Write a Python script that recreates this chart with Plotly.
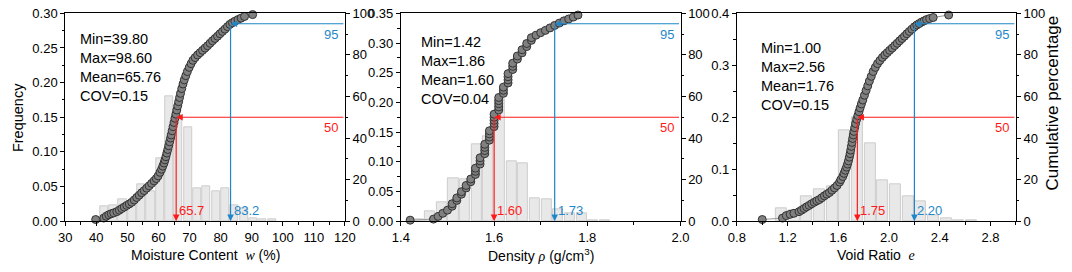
import plotly.graph_objects as go

FONT = "Liberation Sans"
RED = "#ff1a1a"
BLUE = "#1f87c9"

# ---------------- Panel 1: moisture content ----------------
w_bins = [42.5, 45.5, 48.5, 51.5, 54.5, 57.5, 60.5, 63.5, 66.5, 69.5, 72.5,
          75.5, 78.5, 81.5, 84.5, 87.5, 90.5, 93.5, 96.5]
w_freq = [0.021, 0.023, 0.032, 0.028, 0.053, 0.043, 0.091, 0.180, 0.152, 0.136,
          0.047, 0.050, 0.043, 0.048, 0.023, 0.018, 0.004, 0.003, 0.002]
w_cx = [39.8, 42.4, 43.2, 44.0, 44.8, 45.6, 46.6, 47.4, 48.2, 49.0, 49.8, 50.6,
        51.4, 52.2, 53.0, 53.8, 54.6, 55.4, 56.2, 57.0, 57.8, 58.6, 59.3, 59.9,
        60.5, 61.0, 61.4, 61.8, 62.1, 62.4, 62.7, 63.0, 63.3, 63.6, 63.9, 64.1,
        64.4, 64.7, 65.0, 65.3, 65.6, 65.9, 66.2, 66.5, 66.8, 67.1, 67.5, 67.9,
        68.3, 68.8, 69.3, 69.9, 70.5, 71.1, 71.8, 72.6, 73.4, 74.2, 75.0, 75.8,
        76.6, 77.4, 78.2, 79.0, 79.8, 80.6, 81.4, 82.2, 83.0, 83.8, 84.6, 85.6,
        86.6, 87.7, 90.3]
w_cp = [0.8, 1.5, 2.4, 3.1, 3.6, 4.0, 4.6, 5.3, 6.1, 6.8, 7.6, 8.3,
        9.1, 10.2, 11.4, 12.5, 13.7, 14.7, 15.9, 17.0, 18.2, 19.4, 20.5, 21.8,
        23.5, 25.0, 26.5, 28.0, 29.5, 31.0, 32.8, 34.5, 36.3, 38.2, 40.0, 41.5,
        43.5, 45.5, 47.5, 49.5, 51.5, 53.5, 55.5, 57.5, 59.5, 61.5, 63.8, 66.0,
        68.0, 70.0, 72.0, 74.0, 75.8, 77.4, 78.7, 80.0, 81.1, 82.2, 83.3, 84.4,
        85.6, 86.8, 87.9, 89.0, 90.2, 91.3, 92.4, 93.6, 94.7, 95.5, 96.2, 97.0,
        97.7, 98.5, 99.4]
w_p50, w_p95 = 65.7, 83.2
w_stats = ["Min=39.80", "Max=98.60", "Mean=65.76", "COV=0.15"]

# ---------------- Panel 2: density ----------------
d_bins = [1.4375, 1.4625, 1.4875, 1.5125, 1.5375, 1.5625, 1.5875, 1.6125,
          1.6375, 1.6625, 1.6875, 1.7125, 1.7375, 1.7625, 1.7875, 1.8125, 1.8375]
d_freq = [0.003, 0.017, 0.032, 0.073, 0.071, 0.130, 0.143, 0.205, 0.100, 0.098,
          0.039, 0.037, 0.020, 0.014, 0.014, 0.001, 0.001]
d_cx = [1.42, 1.47, 1.48, 1.49, 1.50, 1.51, 1.51, 1.52, 1.52, 1.53, 1.53, 1.54,
        1.54, 1.55, 1.55, 1.56, 1.56, 1.56, 1.57, 1.57, 1.57, 1.58, 1.58, 1.58,
        1.58, 1.59, 1.59, 1.59, 1.59, 1.60, 1.60, 1.60, 1.60, 1.60, 1.61, 1.61,
        1.61, 1.61, 1.61, 1.62, 1.62, 1.62, 1.63, 1.63, 1.63, 1.63, 1.64, 1.64,
        1.64, 1.65, 1.65, 1.66, 1.66, 1.67, 1.67, 1.68, 1.68, 1.69, 1.70, 1.71,
        1.72, 1.73, 1.74, 1.75, 1.76, 1.77, 1.78]
d_cp = [0.5, 1.0, 2.3, 3.8, 5.3, 7.2, 8.4, 10.0, 11.2, 13.0, 14.2, 16.0,
        17.2, 19.0, 20.3, 22.5, 24.0, 25.5, 27.5, 29.0, 30.5, 32.5, 34.0, 35.5,
        37.0, 39.0, 40.5, 42.0, 43.5, 45.5, 47.0, 48.5, 50.0, 51.5, 53.5, 55.0,
        56.5, 58.0, 59.5, 61.5, 63.0, 64.5, 66.5, 68.0, 69.5, 71.0, 73.0, 74.5,
        76.0, 78.0, 79.5, 81.0, 82.5, 84.0, 85.5, 87.0, 88.3, 89.5, 90.7, 91.8,
        93.0, 94.2, 95.3, 96.4, 97.3, 98.2, 99.2]
d_p50, d_p95 = 1.60, 1.73
d_stats = ["Min=1.42", "Max=1.86", "Mean=1.60", "COV=0.04"]

# ---------------- Panel 3: void ratio ----------------
e_bins = [1.15, 1.25, 1.35, 1.45, 1.55, 1.65, 1.75, 1.85, 1.95, 2.05, 2.15,
          2.25, 2.35, 2.45, 2.55, 2.65]
e_freq = [0.024, 0.021, 0.047, 0.061, 0.068, 0.1745, 0.200, 0.149, 0.078,
          0.071, 0.0485, 0.0376, 0.0105, 0.006, 0.002, 0.001]
e_cx = [1.00, 1.16, 1.19, 1.22, 1.25, 1.29, 1.31, 1.33, 1.35, 1.37, 1.39, 1.41,
        1.43, 1.45, 1.47, 1.49, 1.51, 1.53, 1.55, 1.57, 1.59, 1.61, 1.62, 1.635,
        1.645, 1.655, 1.665, 1.673, 1.68, 1.687, 1.693, 1.698, 1.703, 1.708,
        1.713, 1.718, 1.723, 1.729, 1.736, 1.745, 1.754, 1.763, 1.772, 1.782,
        1.793, 1.806, 1.819, 1.832, 1.845, 1.860, 1.875, 1.892, 1.909, 1.928,
        1.948, 1.967, 1.986, 2.005, 2.025, 2.045, 2.064, 2.084, 2.103, 2.122,
        2.141, 2.160, 2.180, 2.200, 2.219, 2.238, 2.257, 2.277, 2.296, 2.320,
        2.348, 2.470]
e_cp = [0.8, 1.5, 2.7, 3.3, 3.8, 4.6, 5.3, 6.1, 6.9, 7.6, 8.4, 9.1,
        9.8, 10.4, 11.3, 12.2, 13.0, 13.8, 14.9, 16.0, 17.2, 18.8, 20.0, 21.5,
        23.0, 24.5, 26.0, 27.5, 29.0, 30.8, 32.5, 34.2, 36.0, 37.9,
        39.8, 41.5, 43.2, 45.0, 47.0, 49.0, 50.8, 52.7, 54.5, 56.4,
        58.3, 60.6, 62.9, 65.1, 67.4, 69.7, 72.0, 74.0, 75.8, 77.3,
        78.8, 80.0, 81.1, 82.2, 83.3, 84.5, 85.6, 86.8, 87.9, 89.0,
        90.2, 91.3, 92.4, 93.5, 94.4, 95.1, 95.8, 96.4, 97.0, 97.5,
        98.0, 99.2]
e_p50, e_p95 = 1.75, 2.20
e_stats = ["Min=1.00", "Max=2.56", "Mean=1.76", "COV=0.15"]

x_titles = [
    "Moisture Content  <span style=\"font-family:'Liberation Serif';font-style:italic\">w</span> (%)",
    "Density <span style=\"font-family:'Liberation Serif';font-style:italic\">ρ</span> (g/cm<sup>3</sup>)",
    "Void Ratio  <span style=\"font-family:'Liberation Serif';font-style:italic\">e</span>",
]

W, H = 1072, 272
px_l = [57.3, 399.3, 741.7]
px_r = [342.3, 684.3, 1026.0]
y_dom = [1 - 226.7 / H, 1 - 6.7 / H]

panels = [
    dict(bins=w_bins, freq=w_freq, bw=3.0, cx=w_cx, cp=w_cp, p50=w_p50, p95=w_p95,
         lbl50="65.7", lbl95="83.2", stats=w_stats, xr=[30, 120], xd=10, x0=30, xm=5, xf="d",
         yr=[0, 0.30], yd=0.05, ym=0.025, yf=".2f", sx=12.7, sy=17.0),
    dict(bins=d_bins, freq=d_freq, bw=0.025, cx=d_cx, cp=d_cp, p50=d_p50, p95=d_p95,
         lbl50="1.60", lbl95="1.73", stats=d_stats, xr=[1.4, 2.0], xd=0.2, x0=1.4, xm=0.1, xf=".1f",
         yr=[0, 0.35], yd=0.05, ym=0.025, yf=".2f", sx=19.0, sy=19.5),
    dict(bins=e_bins, freq=e_freq, bw=0.1, cx=e_cx, cp=e_cp, p50=e_p50, p95=e_p95,
         lbl50="1.75", lbl95="2.20", stats=e_stats, xr=[0.8, 3.0], xd=0.4, x0=0.8, xm=0.2, xf=".1f",
         yr=[0, 0.4], yd=0.1, ym=0.05, yf=".1f", sx=22.6, sy=26.5),
]

fig = go.Figure()
annotations = []
tickfont = dict(family=FONT, size=13, color="black")
layout = {}

for k, p in enumerate(panels):
    xs = "" if k == 0 else str(k + 1)
    yl = "" if k == 0 else str(2 * k + 1)
    yr_ = str(2 * k + 2)
    xref, ylref, yrref = "x" + xs, "y" + yl, "y" + yr_

    fig.add_trace(go.Bar(x=p["bins"], y=p["freq"], width=p["bw"] * 0.87,
                         marker=dict(color="#e8e8e8", line=dict(color="#cdcdcd", width=1)),
                         xaxis=xref, yaxis=ylref, showlegend=False, hoverinfo="skip"))
    fig.add_trace(go.Scatter(x=p["cx"], y=p["cp"], mode="lines+markers",
                             line=dict(color="#9a9a9a", width=1),
                             marker=dict(size=8, color="#808080", line=dict(color="#333333", width=1)),
                             xaxis=xref, yaxis=yrref, showlegend=False, cliponaxis=False,
                             hoverinfo="skip"))

    dom = [px_l[k] / W, px_r[k] / W]
    common = dict(ticks="outside", ticklen=4, tickwidth=1, tickcolor="black",
                  showline=True, linecolor="black", linewidth=1, showgrid=False,
                  zeroline=False, tickfont=tickfont, ticklabeloverflow="allow")
    layout["xaxis" + xs] = dict(common, domain=dom, anchor=ylref, range=p["xr"], dtick=p["xd"],
                                tick0=p["x0"], tickformat=p["xf"], mirror=True,
                                minor=dict(ticks="outside", ticklen=2.5, dtick=p["xm"], tickcolor="black"))
    layout["yaxis" + yl] = dict(common, domain=y_dom, anchor=xref,
                                range=[p["yr"][0], p["yr"][1] * 1.0001], dtick=p["yd"], tick0=0,
                                tickformat=p["yf"],
                                minor=dict(ticks="outside", ticklen=2.5, dtick=p["ym"], tickcolor="black"))
    layout["yaxis" + yr_] = dict(common, overlaying=ylref, anchor=xref, side="right",
                                 range=[0, 100.01], dtick=20,
                                 minor=dict(ticks="outside", ticklen=2.5, dtick=10, tickcolor="black"))

    xmax = p["xr"][1]
    for val, pct, col, lbl in [(p["p50"], 50, RED, p["lbl50"]), (p["p95"], 95, BLUE, p["lbl95"])]:
        arrow = dict(xref=xref, yref=yrref, axref=xref, ayref=yrref, text="", showarrow=True,
                     arrowhead=2, arrowsize=1.1, arrowwidth=1.2, arrowcolor=col, standoff=0)
        annotations.append(dict(arrow, x=val, y=pct, ax=xmax, ay=pct))
        annotations.append(dict(arrow, x=val, y=0, ax=val, ay=pct))
        annotations.append(dict(xref=xref, yref=yrref, x=xmax, y=pct, text=str(pct), showarrow=False,
                                xanchor="right", yanchor="top", xshift=-5, yshift=-1,
                                font=dict(family=FONT, size=13, color=col)))
        annotations.append(dict(xref=xref, yref=yrref, x=val, y=0, text=lbl, showarrow=False,
                                xanchor="left", yanchor="bottom", xshift=1, yshift=1,
                                font=dict(family=FONT, size=13, color=col)))

    annotations.append(dict(xref=xref + " domain", yref=ylref + " domain",
                            x=p["sx"] / (px_r[k] - px_l[k]), y=1 - p["sy"] / 220.0,
                            text="<br>".join(p["stats"]), showarrow=False, align="left",
                            xanchor="left", yanchor="top",
                            font=dict(family=FONT, size=14.5, color="black")))
    annotations.append(dict(xref="paper", yref="paper", x=(px_l[k] + px_r[k]) / 2 / W, y=1 - 263 / H,
                            text=x_titles[k], showarrow=False, xanchor="center", yanchor="middle",
                            font=dict(family=FONT, size=14, color="black")))

annotations.append(dict(xref="paper", yref="paper", x=9 / W, y=1 - 116.7 / H, text="Frequency",
                        textangle=-90, showarrow=False, xanchor="center", yanchor="middle",
                        font=dict(family=FONT, size=14.5, color="black")))
annotations.append(dict(xref="paper", yref="paper", x=1063 / W, y=1 - 102 / H, text="Cumulative percentage",
                        textangle=-90, showarrow=False, xanchor="center", yanchor="middle",
                        font=dict(family=FONT, size=17, color="black")))

fig.update_layout(**layout)
fig.update_layout(width=W, height=H, margin=dict(l=0, r=0, t=0, b=0),
                  paper_bgcolor="white", plot_bgcolor="white", bargap=0,
                  annotations=annotations, font=dict(family=FONT), hovermode=False)

post = ("document.documentElement.style.margin='0';document.documentElement.style.padding='0';"
        "document.documentElement.style.overflow='hidden';"
        "document.body.style.margin='0';document.body.style.padding='0';document.body.style.overflow='hidden';"
        "var d=document.getElementById('{plot_id}');d.style.position='absolute';"
        "d.style.left='0px';d.style.top='0px';")
fig.write_html("out.html", config={"displayModeBar": False}, post_script=post)
